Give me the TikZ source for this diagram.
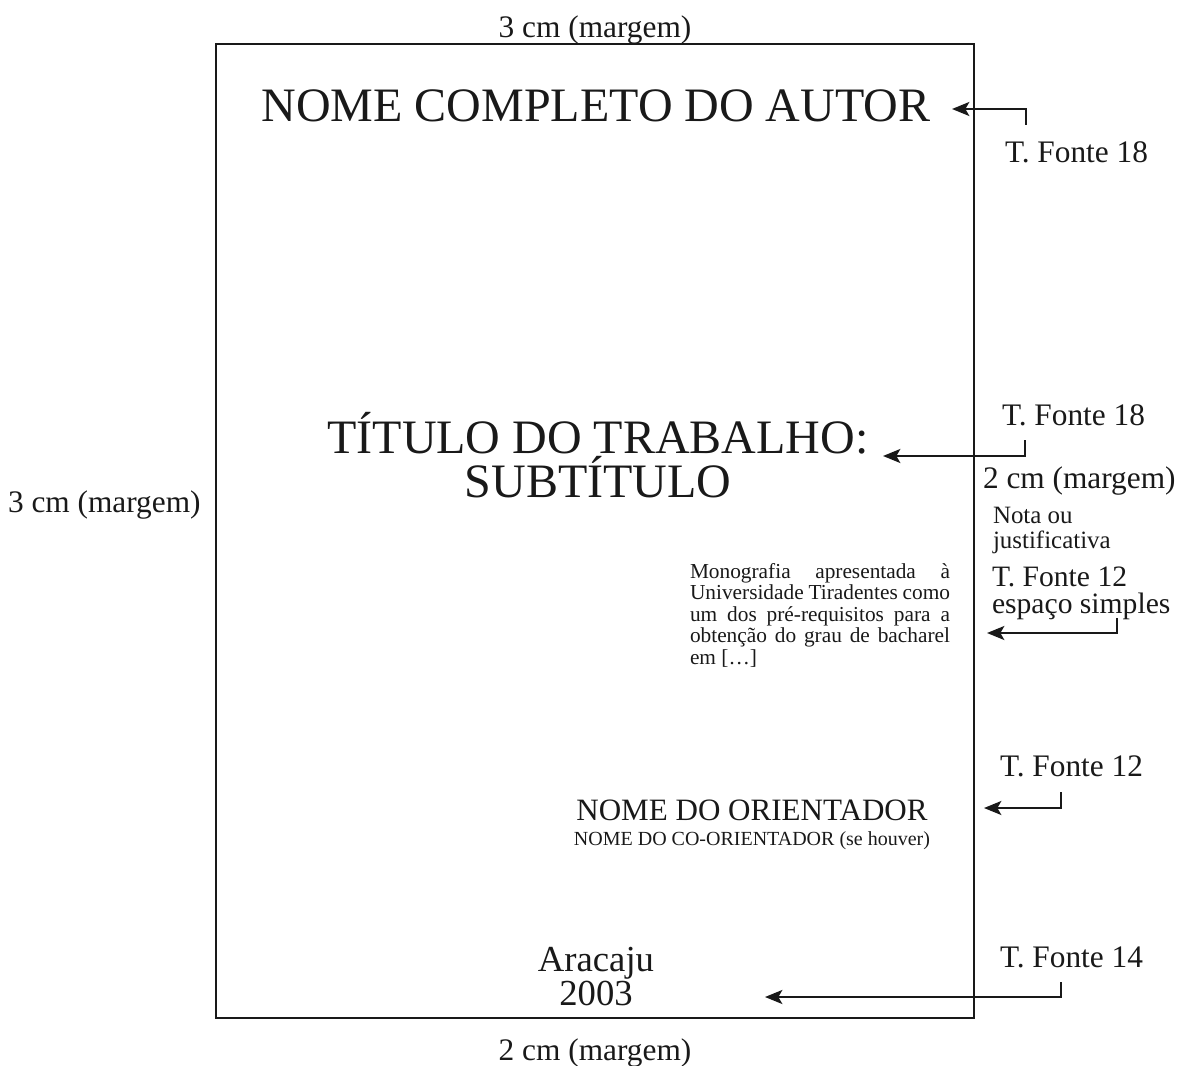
\documentclass[tikz,border=0pt]{standalone}
\usepackage{fontspec}
\setmainfont{Liberation Serif}
\usetikzlibrary{arrows.meta}

\begin{document}
\begin{tikzpicture}[
        x=0.75pt, y=-0.75pt,
        every node/.style={inner sep=0pt, outer sep=0pt, text=black!90},
        lbl/.style={font=\fontsize{23.5pt}{26pt}\selectfont, anchor=base west},
        big/.style={font=\fontsize{36pt}{31pt}\selectfont, align=center},
        arr/.style={-{Stealth[length=13pt, width=10.5pt, inset=3pt]}, line width=1.6pt, black!90}
    ]
    \useasboundingbox (0,0) rectangle (1181,1066);
    % page frame
    \draw[line width=1.7pt, black!90] (216,44) rectangle (974,1018);

    % margins
    \node[lbl, anchor=base]   (mtop)   at (595,38)   {3 cm (margem)};
    \node[lbl]                (mleft)  at (8,512)    {3 cm (margem)};
    \node[lbl]                (mright) at (983,488)  {2 cm (margem)};
    \node[lbl, anchor=base]   (mbot)   at (595,1060) {2 cm (margem)};

    % page contents
    \node[big, anchor=base] (autor)  at (596,122) {NOME COMPLETO DO AUTOR};
    \node[big, anchor=base] (titulo) at (598,497) {TÍTULO DO TRABALHO:\\SUBTÍTULO};
    \node[font=\fontsize{16pt}{16.2pt}\selectfont, text width=195pt, align=justify, anchor=north west] (nota) at (690,563)
        {Monografia apresentada à\linebreak Universidade Tiradentes como\linebreak um dos pré-requisitos para a\linebreak obtenção do grau de bacharel\linebreak em […]};
    \node[font=\fontsize{23.3pt}{26pt}\selectfont, anchor=base] (orient) at (752,820) {NOME DO ORIENTADOR};
    \node[font=\fontsize{15pt}{18pt}\selectfont, anchor=base] (coorient) at (752,845) {NOME DO CO-ORIENTADOR (se houver)};
    \node[font=\fontsize{27.5pt}{24pt}\selectfont, align=center, anchor=base] (local) at (596,1005) {Aracaju\\2003};

    % annotations
    \node[lbl] (f18a) at (1005,163) {T. Fonte 18};
    \node[lbl] (f18b) at (1002,425) {T. Fonte 18};
    \node[font=\fontsize{18.7pt}{18.75pt}\selectfont, align=left, anchor=base west] (just) at (993,548) {Nota ou\\justificativa};
    \node[font=\fontsize{22.2pt}{20pt}\selectfont, align=left, anchor=base west] (f12a) at (992,613) {T. Fonte 12\\espaço simples};
    \node[lbl] (f12b) at (1000,776) {T. Fonte 12};
    \node[lbl] (f14)  at (1000,967) {T. Fonte 14};

    % arrows
    \coordinate (s1) at (1026,125); \coordinate (t1) at (952,109);
    \coordinate (s2) at (1025,440); \coordinate (t2) at (883,456);
    \coordinate (s3) at (1117,618); \coordinate (t3) at (987,633);
    \coordinate (s4) at (1061,792); \coordinate (t4) at (984,808);
    \coordinate (s5) at (1061,982); \coordinate (t5) at (765,997);
    \draw[arr] (s1) |- (t1);
    \draw[arr] (s2) |- (t2);
    \draw[arr] (s3) |- (t3);
    \draw[arr] (s4) |- (t4);
    \draw[arr] (s5) |- (t5);
\end{tikzpicture}
\end{document}
